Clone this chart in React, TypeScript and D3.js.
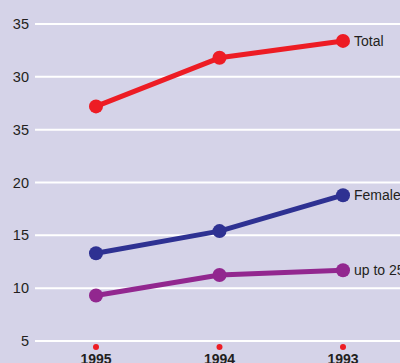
import React from "react";
import * as d3 from "d3";

const years = ["1995", "1994", "1993"];
const tickValues = [35, 30, 25, 20, 15, 10, 5];
const tickLabels = ["35", "30", "35", "20", "15", "10", "5"];
const seriesNames = ["Total", "Females", "up to 25"];
const totalValues = [27.2, 31.8, 33.4];
const femalesValues = [13.3, 15.4, 18.8];
const upTo25Values = [9.3, 11.25, 11.7];
const seriesColors = ["#ed1c24", "#2e3192", "#92278f"];

const W = 400;
const H = 363;

export default function App() {
  const x = d3.scalePoint<string>().domain(years).range([96, 343]);
  const y = d3.scaleLinear().domain([5, 35]).range([341, 24]);
  const series = [totalValues, femalesValues, upTo25Values];
  const line = d3
    .line<number>()
    .x((_, i) => x(years[i]) as number)
    .y((d) => y(d));
  const font = "'Liberation Sans Narrow', 'Arial Narrow', 'Liberation Sans', sans-serif";

  return (
    <svg
      width={W}
      height={H}
      style={{ position: "absolute", left: 0, top: 0, display: "block" }}
    >
      <rect x={0} y={0} width={W} height={H} fill="#d5d3e8" />
      {tickValues.map((v, i) => (
        <g key={i}>
          <line x1={35} x2={W} y1={y(v)} y2={y(v)} stroke="#ffffff" strokeWidth={2} />
          <text
            x={29}
            y={y(v)}
            dy="0.35em"
            textAnchor="end"
            fontFamily={font}
            fontSize={14.5}
            fill="#231f20"
          >
            {tickLabels[i]}
          </text>
        </g>
      ))}
      {years.map((yr) => (
        <g key={yr}>
          <circle cx={x(yr)} cy={347} r={3} fill="#ed1c24" />
          <text
            x={x(yr)}
            y={364}
            textAnchor="middle"
            fontFamily={font}
            fontWeight="bold"
            fontSize={14}
            fill="#231f20"
          >
            {yr}
          </text>
        </g>
      ))}
      {series.map((vals, si) => (
        <g key={si}>
          <path
            d={line(vals) || ""}
            fill="none"
            stroke={seriesColors[si]}
            strokeWidth={5}
            strokeLinejoin="round"
          />
          {vals.map((v, i) => (
            <circle key={i} cx={x(years[i])} cy={y(v)} r={7} fill={seriesColors[si]} />
          ))}
          <text
            x={(x(years[2]) as number) + 11}
            y={y(vals[2])}
            dy="0.35em"
            fontFamily={font}
            fontSize={14}
            fill="#231f20"
          >
            {seriesNames[si]}
          </text>
        </g>
      ))}
    </svg>
  );
}
